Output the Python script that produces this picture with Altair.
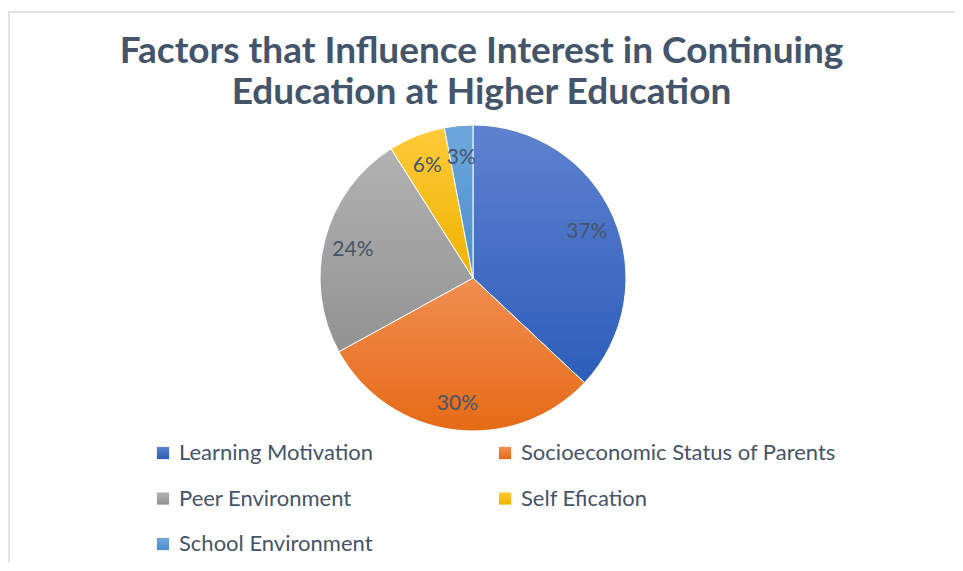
import altair as alt
import pandas as pd

categories = ["Learning Motivation", "Socioeconomic Status of Parents",
              "Peer Environment", "Self Efication", "School Environment"]
values = [37, 30, 24, 6, 3]
labels = ["37%", "30%", "24%", "6%", "3%"]
grad_top = ["#5E82CF", "#F28E50", "#B2B2B2", "#FFCA3A", "#6EA7DD"]
grad_bottom = ["#2D5DBA", "#E56A16", "#929292", "#EEB300", "#4C8DCC"]

df = pd.DataFrame({"category": categories, "value": values,
                   "label": labels, "idx": list(range(len(values)))})

def grad(t, b):
    return alt.ExprRef(expr=(
        "{gradient: 'linear', x1: 0, y1: 0, x2: 0, y2: 1, "
        f"stops: [{{offset: 0, color: '{t}'}}, {{offset: 1, color: '{b}'}}]}}"))

rng = [grad(t, b) for t, b in zip(grad_top, grad_bottom)]

W, H = 947, 555
CX, CY, R = 465, 270, 153
FONT = "Lato"
TXT = "#44546A"

base = alt.Chart(df).encode(
    theta=alt.Theta("value:Q", stack=True),
    order=alt.Order("idx:Q"),
)

pie = base.mark_arc(outerRadius=R, stroke="white", strokeWidth=1).encode(
    x=alt.value(CX), y=alt.value(CY),
    color=alt.Color(
        "category:N",
        scale=alt.Scale(domain=categories, range=rng),
        sort=categories,
        legend=alt.Legend(
            title=None, orient="none", legendX=144, legendY=434,
            columns=2, direction="horizontal", gridAlign="each",
            columnPadding=120, rowPadding=23.5,
            symbolType="square", symbolSize=150, symbolStrokeWidth=0,
            labelFont=FONT, labelFontSize=22, labelColor=TXT,
            labelOffset=5, labelLimit=400,
        ),
    ),
)

text = base.mark_text(radius=124, font=FONT, fontSize=21, color=TXT, dy=3).encode(
    x=alt.value(CX), y=alt.value(CY),
    text="label:N",
)

frame_top = alt.Chart(df).mark_rule(color="#E1E5EA", strokeWidth=2).encode(
    x=alt.value(0), x2=alt.value(W), y=alt.value(4))
frame_left = alt.Chart(df).mark_rule(color="#E1E5EA", strokeWidth=2).encode(
    x=alt.value(1), y=alt.value(4), y2=alt.value(H))

chart = alt.layer(frame_top, frame_left, pie, text).properties(
    width=W, height=H,
    autosize=alt.AutoSizeParams(type="none"),
    padding=0,
    title=alt.TitleParams(
        text=["Factors that Influence Interest in Continuing",
              "Education at Higher Education"],
        font=FONT, fontSize=37, fontWeight="bold", color=TXT,
        anchor="middle", baseline="top", offset=0, dy=104, lineHeight=41,
    ),
).configure_view(stroke=None)

chart.save("out.html", embed_options={"renderer": "svg", "actions": False})
